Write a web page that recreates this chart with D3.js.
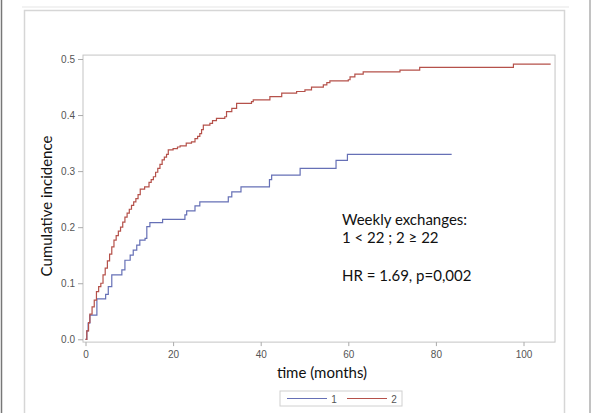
<!DOCTYPE html>
<html>
<head>
<meta charset="utf-8">
<script src="https://cdn.jsdelivr.net/npm/d3@7"></script>
<style>
  body { margin: 0; background: #fff; }
  svg { display: block; }
</style>
</head>
<body>
<script>
// group 1 (< 22 weekly exchanges) - step times and cumulative incidence
var times1  = [0, 0.3, 0.6, 1.0, 2.6, 4.6, 5.2, 6.0, 8.3, 9.0, 10.2, 10.9, 11.7, 12.4, 13.6, 14.0, 14.7, 17.6, 22.7, 23.1, 25.0, 26.1, 32.6, 33.4, 35.5, 42.0, 42.5, 49.0, 57.2, 59.8, 83.6];
var values1 = [0, 0.015, 0.029, 0.043, 0.072, 0.080, 0.094, 0.115, 0.124, 0.141, 0.150, 0.159, 0.168, 0.177, 0.180, 0.201, 0.208, 0.214, 0.222, 0.229, 0.238, 0.245, 0.254, 0.263, 0.272, 0.285, 0.293, 0.305, 0.319, 0.330, 0.330];

// group 2 (>= 22 weekly exchanges)
var times2  = [0, 0.3, 0.7, 1.0, 1.5, 2.0, 2.5, 3.0, 3.5, 4.0, 4.5, 5.0, 5.5, 6.0, 6.5, 7.0, 7.5, 8.0, 8.5, 9.0, 9.5, 10.0, 10.5, 11.0, 11.5, 12.0, 12.5, 13.5, 14.5, 15.0, 15.5, 16.0, 16.5, 17.0, 17.5, 18.0, 18.5, 18.9, 20.0, 21.0, 21.6, 23.0, 24.2, 25.0, 25.6, 26.1, 26.5, 26.9, 28.4, 29.0, 29.9, 31.8, 32.2, 33.4, 34.5, 37.9, 38.3, 42.1, 44.8, 48.2, 50.1, 51.6, 54.3, 55.1, 55.8, 60.0, 60.4, 61.5, 63.4, 71.8, 76.3, 97.7, 106.2];
var values2 = [0, 0.015, 0.030, 0.045, 0.058, 0.070, 0.085, 0.094, 0.100, 0.115, 0.127, 0.140, 0.152, 0.165, 0.177, 0.185, 0.193, 0.200, 0.209, 0.218, 0.225, 0.232, 0.239, 0.245, 0.251, 0.258, 0.268, 0.272, 0.280, 0.285, 0.290, 0.298, 0.305, 0.312, 0.320, 0.325, 0.330, 0.338, 0.340, 0.343, 0.345, 0.350, 0.352, 0.358, 0.362, 0.367, 0.374, 0.382, 0.385, 0.390, 0.394, 0.397, 0.406, 0.412, 0.421, 0.424, 0.427, 0.433, 0.439, 0.442, 0.445, 0.450, 0.454, 0.458, 0.461, 0.463, 0.468, 0.473, 0.477, 0.480, 0.485, 0.491, 0.491];

var xTicks = [0, 20, 40, 60, 80, 100];
var yTicks = [0, 0.1, 0.2, 0.3, 0.4, 0.5];
var groups = ["1", "2"];
var colors = ["#6670b6", "#b5514a"];
var noteLines = ["Weekly exchanges:", "1 < 22 ; 2 \u2265 22", "", "HR = 1.69, p=0,002"];

var width = 594, height = 413;

var svg = d3.select("body").append("svg")
  .attr("width", width)
  .attr("height", height);

// page frame around the figure
svg.append("line").attr("x1", 1.5).attr("x2", 1.5).attr("y1", 0).attr("y2", height)
  .attr("stroke", "#777").attr("stroke-width", 1.5);
svg.append("line").attr("x1", 590).attr("x2", 590).attr("y1", 0).attr("y2", height)
  .attr("stroke", "#999").attr("stroke-width", 1.2);
svg.append("line").attr("x1", 22).attr("x2", 569).attr("y1", 7).attr("y2", 7)
  .attr("stroke", "#eee").attr("stroke-width", 1.5);
svg.append("path").attr("d", "M24.5,420V10.5H564.5V420")
  .attr("fill", "none").attr("stroke", "#d6d6d6").attr("stroke-width", 1.5);

// scales
var x = d3.scaleLinear().domain([0, 100]).range([85.5, 523.5]);
var y = d3.scaleLinear().domain([0, 0.5]).range([339.3, 59]);

// plot frame
var fx0 = x(-0.57), fx1 = x(107.2), fy0 = y(-0.005), fy1 = y(0.507);
svg.append("rect")
  .attr("x", fx0).attr("y", fy1)
  .attr("width", fx1 - fx0).attr("height", fy0 - fy1)
  .attr("fill", "none").attr("stroke", "#c4c4c4").attr("stroke-width", 1);

// axes
var gx = svg.append("g").attr("transform", "translate(0," + fy0 + ")")
  .call(d3.axisBottom(x).tickValues(xTicks).tickSize(4).tickPadding(5).tickFormat(d3.format("d")));
var gy = svg.append("g").attr("transform", "translate(" + fx0 + ",0)")
  .call(d3.axisLeft(y).tickValues(yTicks).tickSize(5).tickPadding(3).tickFormat(d3.format(".1f")));
[gx, gy].forEach(function(g) {
  g.select(".domain").remove();
  g.selectAll(".tick line").attr("stroke", "#aaa");
  g.selectAll(".tick text")
    .attr("fill", "#555")
    .style("font-family", "'Liberation Sans', Arial, sans-serif")
    .style("font-size", "10px");
});

// step curves
var line = d3.line()
  .x(function(d) { return x(d[0]); })
  .y(function(d) { return y(d[1]); })
  .curve(d3.curveStepAfter);

var series = [
  d3.zip(times1, values1),
  d3.zip(times2, values2)
];
svg.selectAll("path.km")
  .data(series)
  .enter().append("path")
  .attr("class", "km")
  .attr("d", line)
  .attr("fill", "none")
  .attr("stroke", function(d, i) { return colors[i]; })
  .attr("stroke-width", 1.2);

// axis titles
svg.append("text")
  .attr("x", 322).attr("y", 378)
  .attr("text-anchor", "middle")
  .style("font-family", "Lato, 'Open Sans', sans-serif")
  .style("font-size", "15px")
  .attr("fill", "#111")
  .text("time (months)");

svg.append("text")
  .attr("transform", "translate(52,206) rotate(-90)")
  .attr("text-anchor", "middle")
  .style("font-family", "Lato, 'Open Sans', sans-serif")
  .style("font-size", "15px")
  .attr("fill", "#111")
  .text("Cumulative incidence");

// annotation
var noteY = [225, 243, 262, 280.5];
svg.selectAll("text.note")
  .data(noteLines)
  .enter().append("text")
  .attr("class", "note")
  .attr("x", 342)
  .attr("y", function(d, i) { return noteY[i]; })
  .style("font-family", "Lato, 'Open Sans', sans-serif")
  .style("font-size", "15px")
  .attr("fill", "#111")
  .text(function(d) { return d; });

// legend
var leg = svg.append("g");
leg.append("rect")
  .attr("x", 280).attr("y", 391).attr("width", 122).attr("height", 15)
  .attr("fill", "none").attr("stroke", "#d0d0d0");
var legX = [287, 347];
groups.forEach(function(gname, i) {
  leg.append("line")
    .attr("x1", legX[i]).attr("x2", legX[i] + 40)
    .attr("y1", 398.5).attr("y2", 398.5)
    .attr("stroke", colors[i]).attr("stroke-width", 1.2);
  leg.append("text")
    .attr("x", legX[i] + 47).attr("y", 402.5)
    .attr("text-anchor", "middle")
    .attr("fill", "#555")
    .style("font-family", "'Liberation Sans', Arial, sans-serif")
    .style("font-size", "10px")
    .text(gname);
});
</script>
</body>
</html>
